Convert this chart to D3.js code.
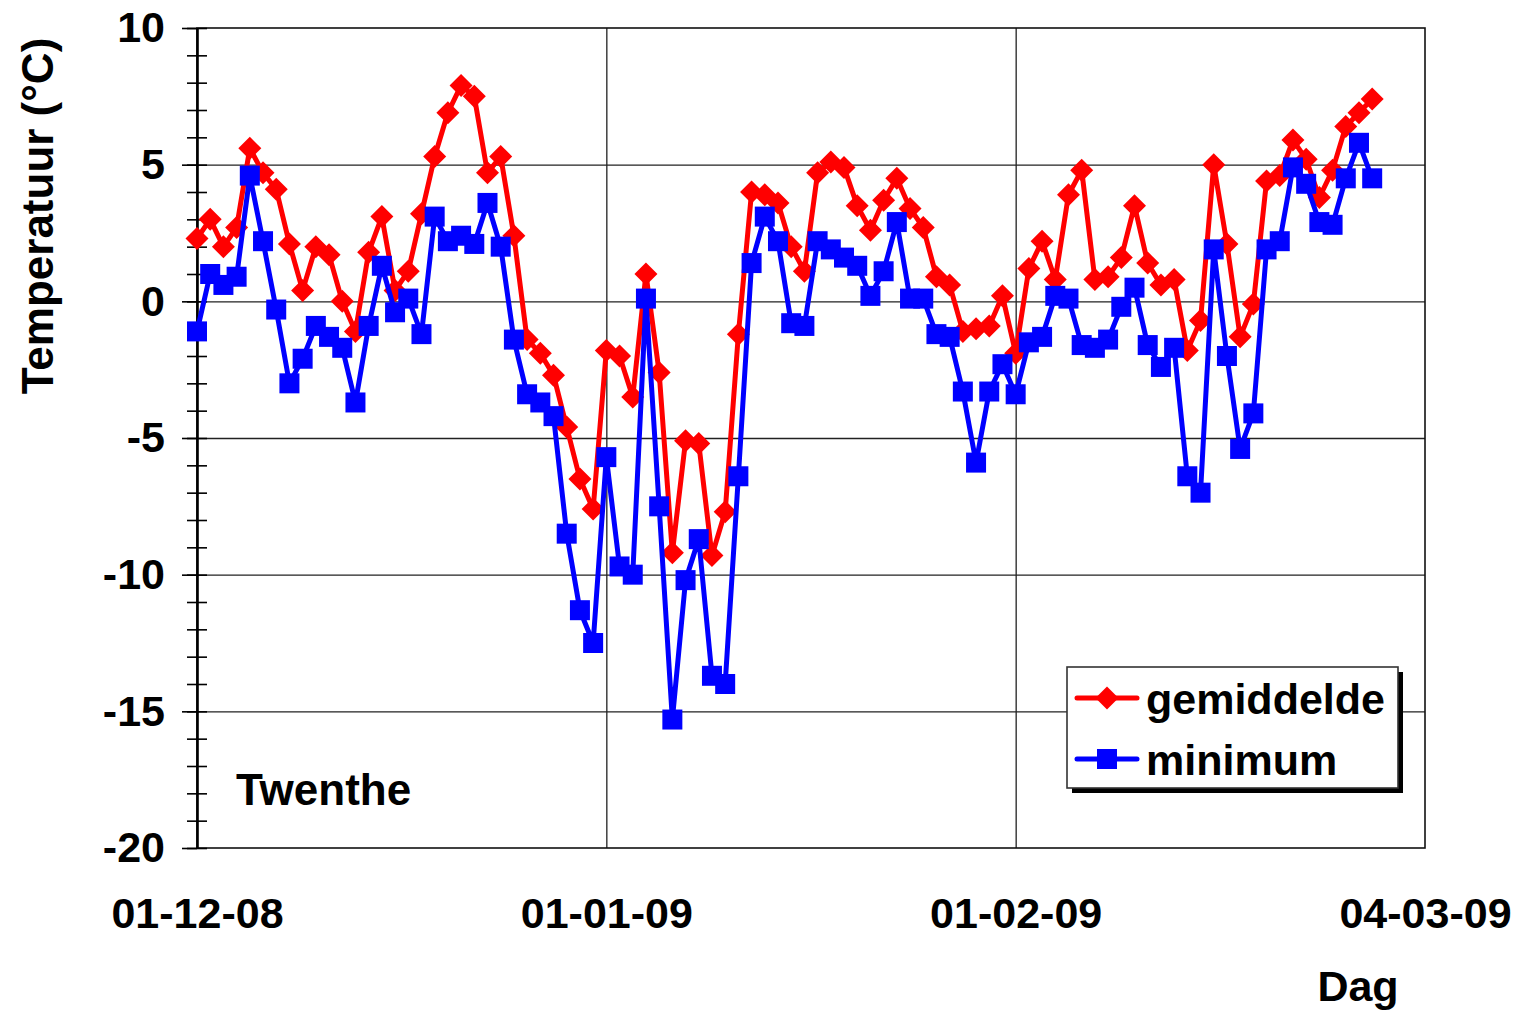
<!DOCTYPE html>
<html>
<head>
<meta charset="utf-8">
<script src="https://cdn.jsdelivr.net/npm/d3@7"></script>
<style>
  body { margin: 0; background: #fff; }
  svg { display: block; }
  text { font-family: "Liberation Sans", Arial, sans-serif; font-weight: bold; fill: #000; }
</style>
</head>
<body>
<svg id="chart" width="1519" height="1012"></svg>
<script>
// Daily temperatures at Twenthe, winter 2008-2009 (first day: 1 December 2008)
const firstDay = new Date(Date.UTC(2008, 11, 1));

const gemiddelde = [
  2.3, 3.0, 2.0, 2.7, 5.6, 4.7, 4.1, 2.1, 0.4, 2.0,
  1.7, 0.0, -1.1, 1.8, 3.1, 0.4, 1.1, 3.2, 5.3, 6.9,
  7.9, 7.5, 4.7, 5.3, 2.4, -1.4, -1.9, -2.7, -4.6, -6.5,
  -7.6, -1.8, -2.0, -3.5, 1.0, -2.6, -9.2, -5.1, -5.2, -9.3,
  -7.7, -1.2, 4.0, 3.9, 3.6, 2.0, 1.1, 4.7, 5.1, 4.9,
  3.5, 2.6, 3.7, 4.5, 3.4, 2.7, 0.9, 0.6, -1.1, -1.0,
  -0.9, 0.2, -1.9, 1.2, 2.2, 0.8, 3.9, 4.8, 0.8, 0.9,
  1.6, 3.5, 1.4, 0.6, 0.8, -1.8, -0.7, 5.0, 2.1, -1.3,
  -0.1, 4.4, 4.6, 5.9, 5.2, 3.8, 4.8, 6.4, 6.9, 7.4
];

const minimum = [
  -1.1, 1.0, 0.6, 0.9, 4.6, 2.2, -0.3, -3.0, -2.1, -0.9,
  -1.3, -1.7, -3.7, -0.9, 1.3, -0.4, 0.1, -1.2, 3.1, 2.2,
  2.4, 2.1, 3.6, 2.0, -1.4, -3.4, -3.7, -4.2, -8.5, -11.3,
  -12.5, -5.7, -9.7, -10.0, 0.1, -7.5, -15.3, -10.2, -8.7, -13.7,
  -14.0, -6.4, 1.4, 3.1, 2.2, -0.8, -0.9, 2.2, 1.9, 1.6,
  1.3, 0.2, 1.1, 2.9, 0.1, 0.1, -1.2, -1.3, -3.3, -5.9,
  -3.3, -2.3, -3.4, -1.5, -1.3, 0.2, 0.1, -1.6, -1.7, -1.4,
  -0.2, 0.5, -1.6, -2.4, -1.7, -6.4, -7.0, 1.9, -2.0, -5.4,
  -4.1, 1.9, 2.2, 4.9, 4.3, 2.9, 2.8, 4.5, 5.8, 4.5
];

const seriesNames = ["gemiddelde", "minimum"];
const seriesColors = ["#ff0000", "#0000ff"];

const yTickValues = [10, 5, 0, -5, -10, -15, -20];
const yGridValues = [5, 0, -5, -10, -15];
const xTickDates = [
  new Date(Date.UTC(2008, 11, 1)),
  new Date(Date.UTC(2009, 0, 1)),
  new Date(Date.UTC(2009, 1, 1)),
  new Date(Date.UTC(2009, 2, 4))
];
const xTickLabels = ["01-12-08", "01-01-09", "01-02-09", "04-03-09"];
const xGridDates = [xTickDates[1], xTickDates[2]];

const stationName = "Twenthe";
const yTitle = "Temperatuur (\u00B0C)";
const xTitle = "Dag";

// ---- layout ----
const plot = { left: 197, right: 1425, top: 28, bottom: 848 };
const fontSize = 43;

const svg = d3.select("#chart");

const x = d3.scaleUtc()
  .domain([xTickDates[0], xTickDates[3]])
  .range([plot.left, plot.right]);

const y = d3.scaleLinear()
  .domain([-20, 10])
  .range([plot.bottom, plot.top]);

const dayOf = i => d3.utcDay.offset(firstDay, i);

// horizontal gridlines
svg.append("g")
  .attr("transform", `translate(${plot.left},0)`)
  .call(d3.axisLeft(y).tickValues(yGridValues).tickSize(-(plot.right - plot.left)).tickFormat(""))
  .call(g => g.select(".domain").remove())
  .call(g => g.selectAll("line").attr("stroke", "#222").attr("stroke-width", 1.3));

// vertical gridlines at month starts
svg.append("g")
  .attr("transform", `translate(0,${plot.bottom})`)
  .call(d3.axisBottom(x).tickValues(xGridDates).tickSize(-(plot.bottom - plot.top)).tickFormat(""))
  .call(g => g.select(".domain").remove())
  .call(g => g.selectAll("line").attr("stroke", "#222").attr("stroke-width", 1.3));

// plot frame
svg.append("rect")
  .attr("x", plot.left).attr("y", plot.top)
  .attr("width", plot.right - plot.left).attr("height", plot.bottom - plot.top)
  .attr("fill", "none").attr("stroke", "#111").attr("stroke-width", 1.6);

// minor ticks crossing the y axis
const minorVals = y.ticks(30);
svg.append("g")
  .attr("transform", `translate(${plot.left},0)`)
  .call(d3.axisLeft(y).tickValues(minorVals).tickSize(10).tickFormat(""))
  .call(g => g.select(".domain").remove())
  .call(g => g.selectAll("line").attr("stroke", "#000").attr("stroke-width", 1.6));
svg.append("g")
  .attr("transform", `translate(${plot.left},0)`)
  .call(d3.axisRight(y).tickValues(minorVals).tickSize(10).tickFormat(""))
  .call(g => g.select(".domain").remove())
  .call(g => g.selectAll("line").attr("stroke", "#000").attr("stroke-width", 1.6));

// y axis with labels (plain hyphen as minus sign)
svg.append("g")
  .attr("transform", `translate(${plot.left},0)`)
  .call(d3.axisLeft(y).tickValues(yTickValues).tickSize(15).tickPadding(17).tickSizeOuter(0)
    .tickFormat(d => String(d)))
  .call(g => g.select(".domain").attr("stroke", "#000").attr("stroke-width", 2.6))
  .call(g => g.selectAll("line").attr("stroke", "#000").attr("stroke-width", 1.6))
  .call(g => g.selectAll("text").attr("font-size", fontSize).attr("font-family", null));

// x axis labels
svg.append("g")
  .attr("transform", `translate(0,${plot.bottom})`)
  .call(d3.axisBottom(x).tickValues(xTickDates).tickFormat((d, i) => xTickLabels[i]).tickSize(0).tickPadding(49))
  .call(g => g.select(".domain").remove())
  .call(g => g.selectAll("text").attr("font-size", fontSize).attr("font-family", null));

// series lines and markers
const series = [gemiddelde, minimum];
const line = d3.line().x((d, i) => x(dayOf(i))).y(d => y(d));

const diamond = r => `M0,${-r}L${r},0L0,${r}L${-r},0Z`;
const squareSide = 20;

series.forEach((vals, s) => {
  const g = svg.append("g");
  g.append("path")
    .datum(vals)
    .attr("d", line)
    .attr("fill", "none")
    .attr("stroke", seriesColors[s])
    .attr("stroke-width", 5)
    .attr("stroke-linejoin", "round");
  if (s === 0) {
    g.selectAll("path.mk").data(vals).enter().append("path")
      .attr("class", "mk")
      .attr("d", diamond(11.5))
      .attr("transform", (d, i) => `translate(${x(dayOf(i))},${y(d)})`)
      .attr("fill", seriesColors[s]);
  } else {
    g.selectAll("rect.mk").data(vals).enter().append("rect")
      .attr("class", "mk")
      .attr("x", (d, i) => x(dayOf(i)) - squareSide / 2)
      .attr("y", d => y(d) - squareSide / 2)
      .attr("width", squareSide).attr("height", squareSide)
      .attr("fill", seriesColors[s]);
  }
});

// station name
svg.append("text")
  .attr("x", 236).attr("y", 805)
  .attr("font-size", fontSize + 1)
  .text(stationName);

// axis titles
svg.append("text")
  .attr("transform", "translate(53,216) rotate(-90)")
  .attr("text-anchor", "middle")
  .attr("font-size", fontSize + 1)
  .text(yTitle);

svg.append("text")
  .attr("x", 1358).attr("y", 1001)
  .attr("text-anchor", "middle")
  .attr("font-size", fontSize)
  .text(xTitle);

// legend
const legend = { x: 1067, y: 667, w: 331, h: 121 };
svg.append("rect")
  .attr("x", legend.x + 5).attr("y", legend.y + 5)
  .attr("width", legend.w).attr("height", legend.h)
  .attr("fill", "#000");
svg.append("rect")
  .attr("x", legend.x).attr("y", legend.y)
  .attr("width", legend.w).attr("height", legend.h)
  .attr("fill", "#fff").attr("stroke", "#333").attr("stroke-width", 1.6);

const legendRows = [698, 759];
seriesNames.forEach((name, s) => {
  const cy = legendRows[s];
  svg.append("line")
    .attr("x1", 1077).attr("x2", 1137).attr("y1", cy).attr("y2", cy)
    .attr("stroke", seriesColors[s]).attr("stroke-width", 5).attr("stroke-linecap", "round");
  if (s === 0) {
    svg.append("path").attr("d", diamond(11.5))
      .attr("transform", `translate(1107,${cy})`).attr("fill", seriesColors[s]);
  } else {
    svg.append("rect")
      .attr("x", 1107 - squareSide / 2).attr("y", cy - squareSide / 2)
      .attr("width", squareSide).attr("height", squareSide)
      .attr("fill", seriesColors[s]);
  }
  svg.append("text")
    .attr("x", 1146).attr("y", cy + 16)
    .attr("font-size", fontSize)
    .text(name);
});
</script>
</body>
</html>
